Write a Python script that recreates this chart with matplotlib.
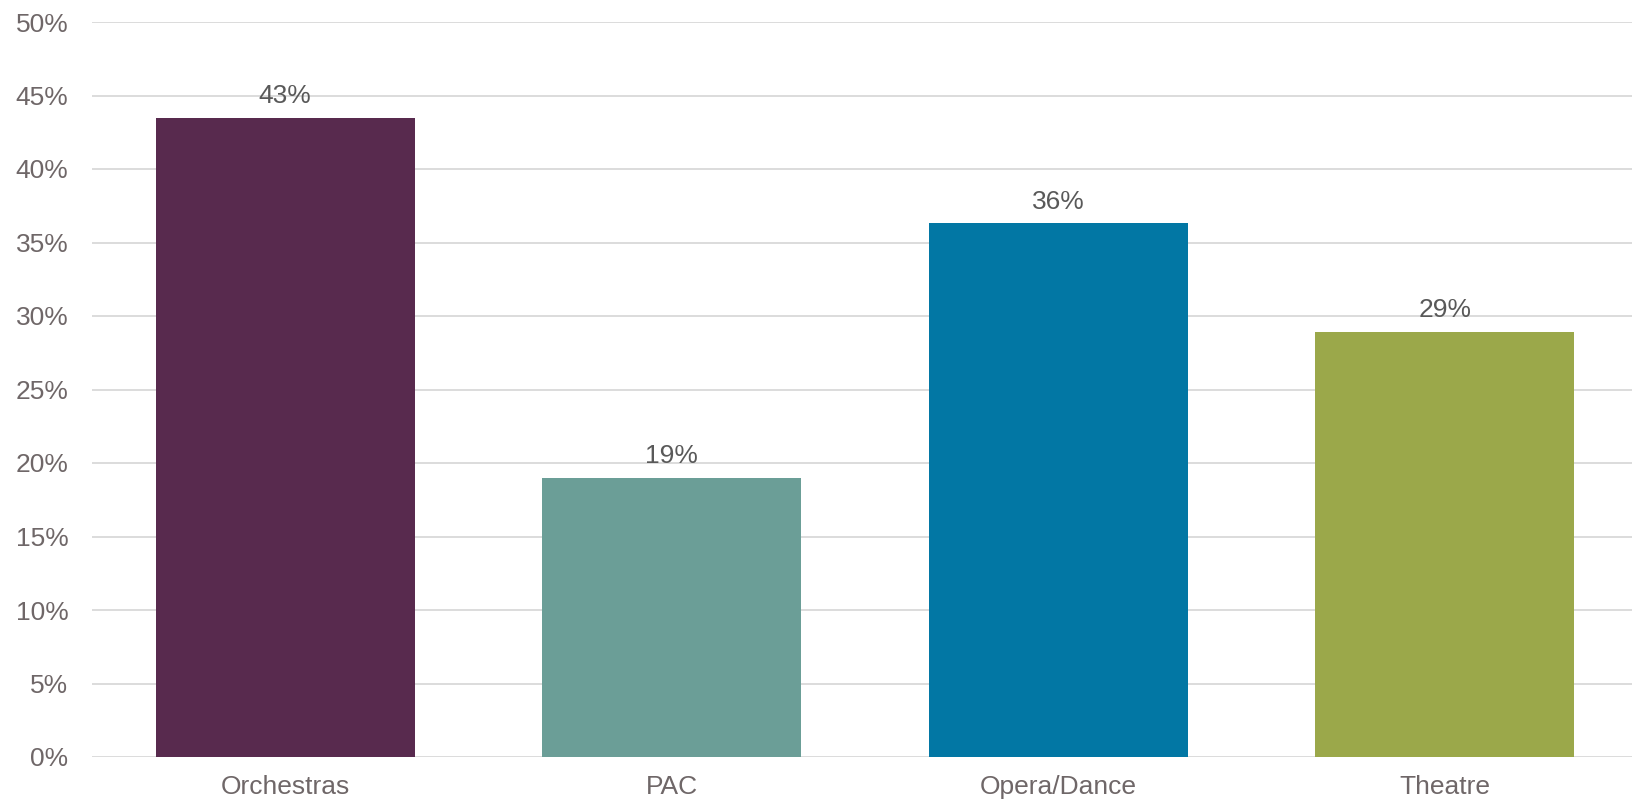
import matplotlib
matplotlib.use("Agg")
import matplotlib.pyplot as plt
from matplotlib.ticker import FuncFormatter, MultipleLocator

categories = ["Orchestras", "PAC", "Opera/Dance", "Theatre"]
values = [43.5, 19.0, 36.3, 28.9]
labels = ["43%", "19%", "36%", "29%"]
colors = ["#582A4E", "#6B9E97", "#0277A4", "#9BA84A"]

plt.rcParams['font.family'] = ['Liberation Sans', 'DejaVu Sans']

fig = plt.figure(figsize=(16.33, 8.02), dpi=100)
ax = fig.add_axes([92/1633, 1-757/802, 1546/1633, (757-22)/802])

x = list(range(len(categories)))
bars = ax.bar(x, values, width=0.67, color=colors, zorder=3)
for b, lab in zip(bars, labels):
    ax.annotate(lab, (b.get_x() + b.get_width()/2, b.get_height()),
                xytext=(0, 7), textcoords="offset points",
                ha="center", va="bottom", fontsize=19, color="#595959")

ax.set_xlim(-0.5, len(categories) - 0.5)
ax.set_ylim(0, 50)
ax.yaxis.set_major_locator(MultipleLocator(5))
ax.yaxis.set_major_formatter(FuncFormatter(lambda v, p: f"{int(round(v))}%"))
ax.set_xticks(x)
ax.set_xticklabels(categories)
ax.tick_params(axis="both", length=0, labelsize=19, labelcolor="#6F6768")
ax.tick_params(axis="y", pad=17)
ax.tick_params(axis="x", pad=13)
ax.grid(axis="y", color="#D9D9D9", linewidth=1.3, zorder=0)
for s in ax.spines.values():
    s.set_visible(False)

fig.savefig("out.png", dpi=100)
